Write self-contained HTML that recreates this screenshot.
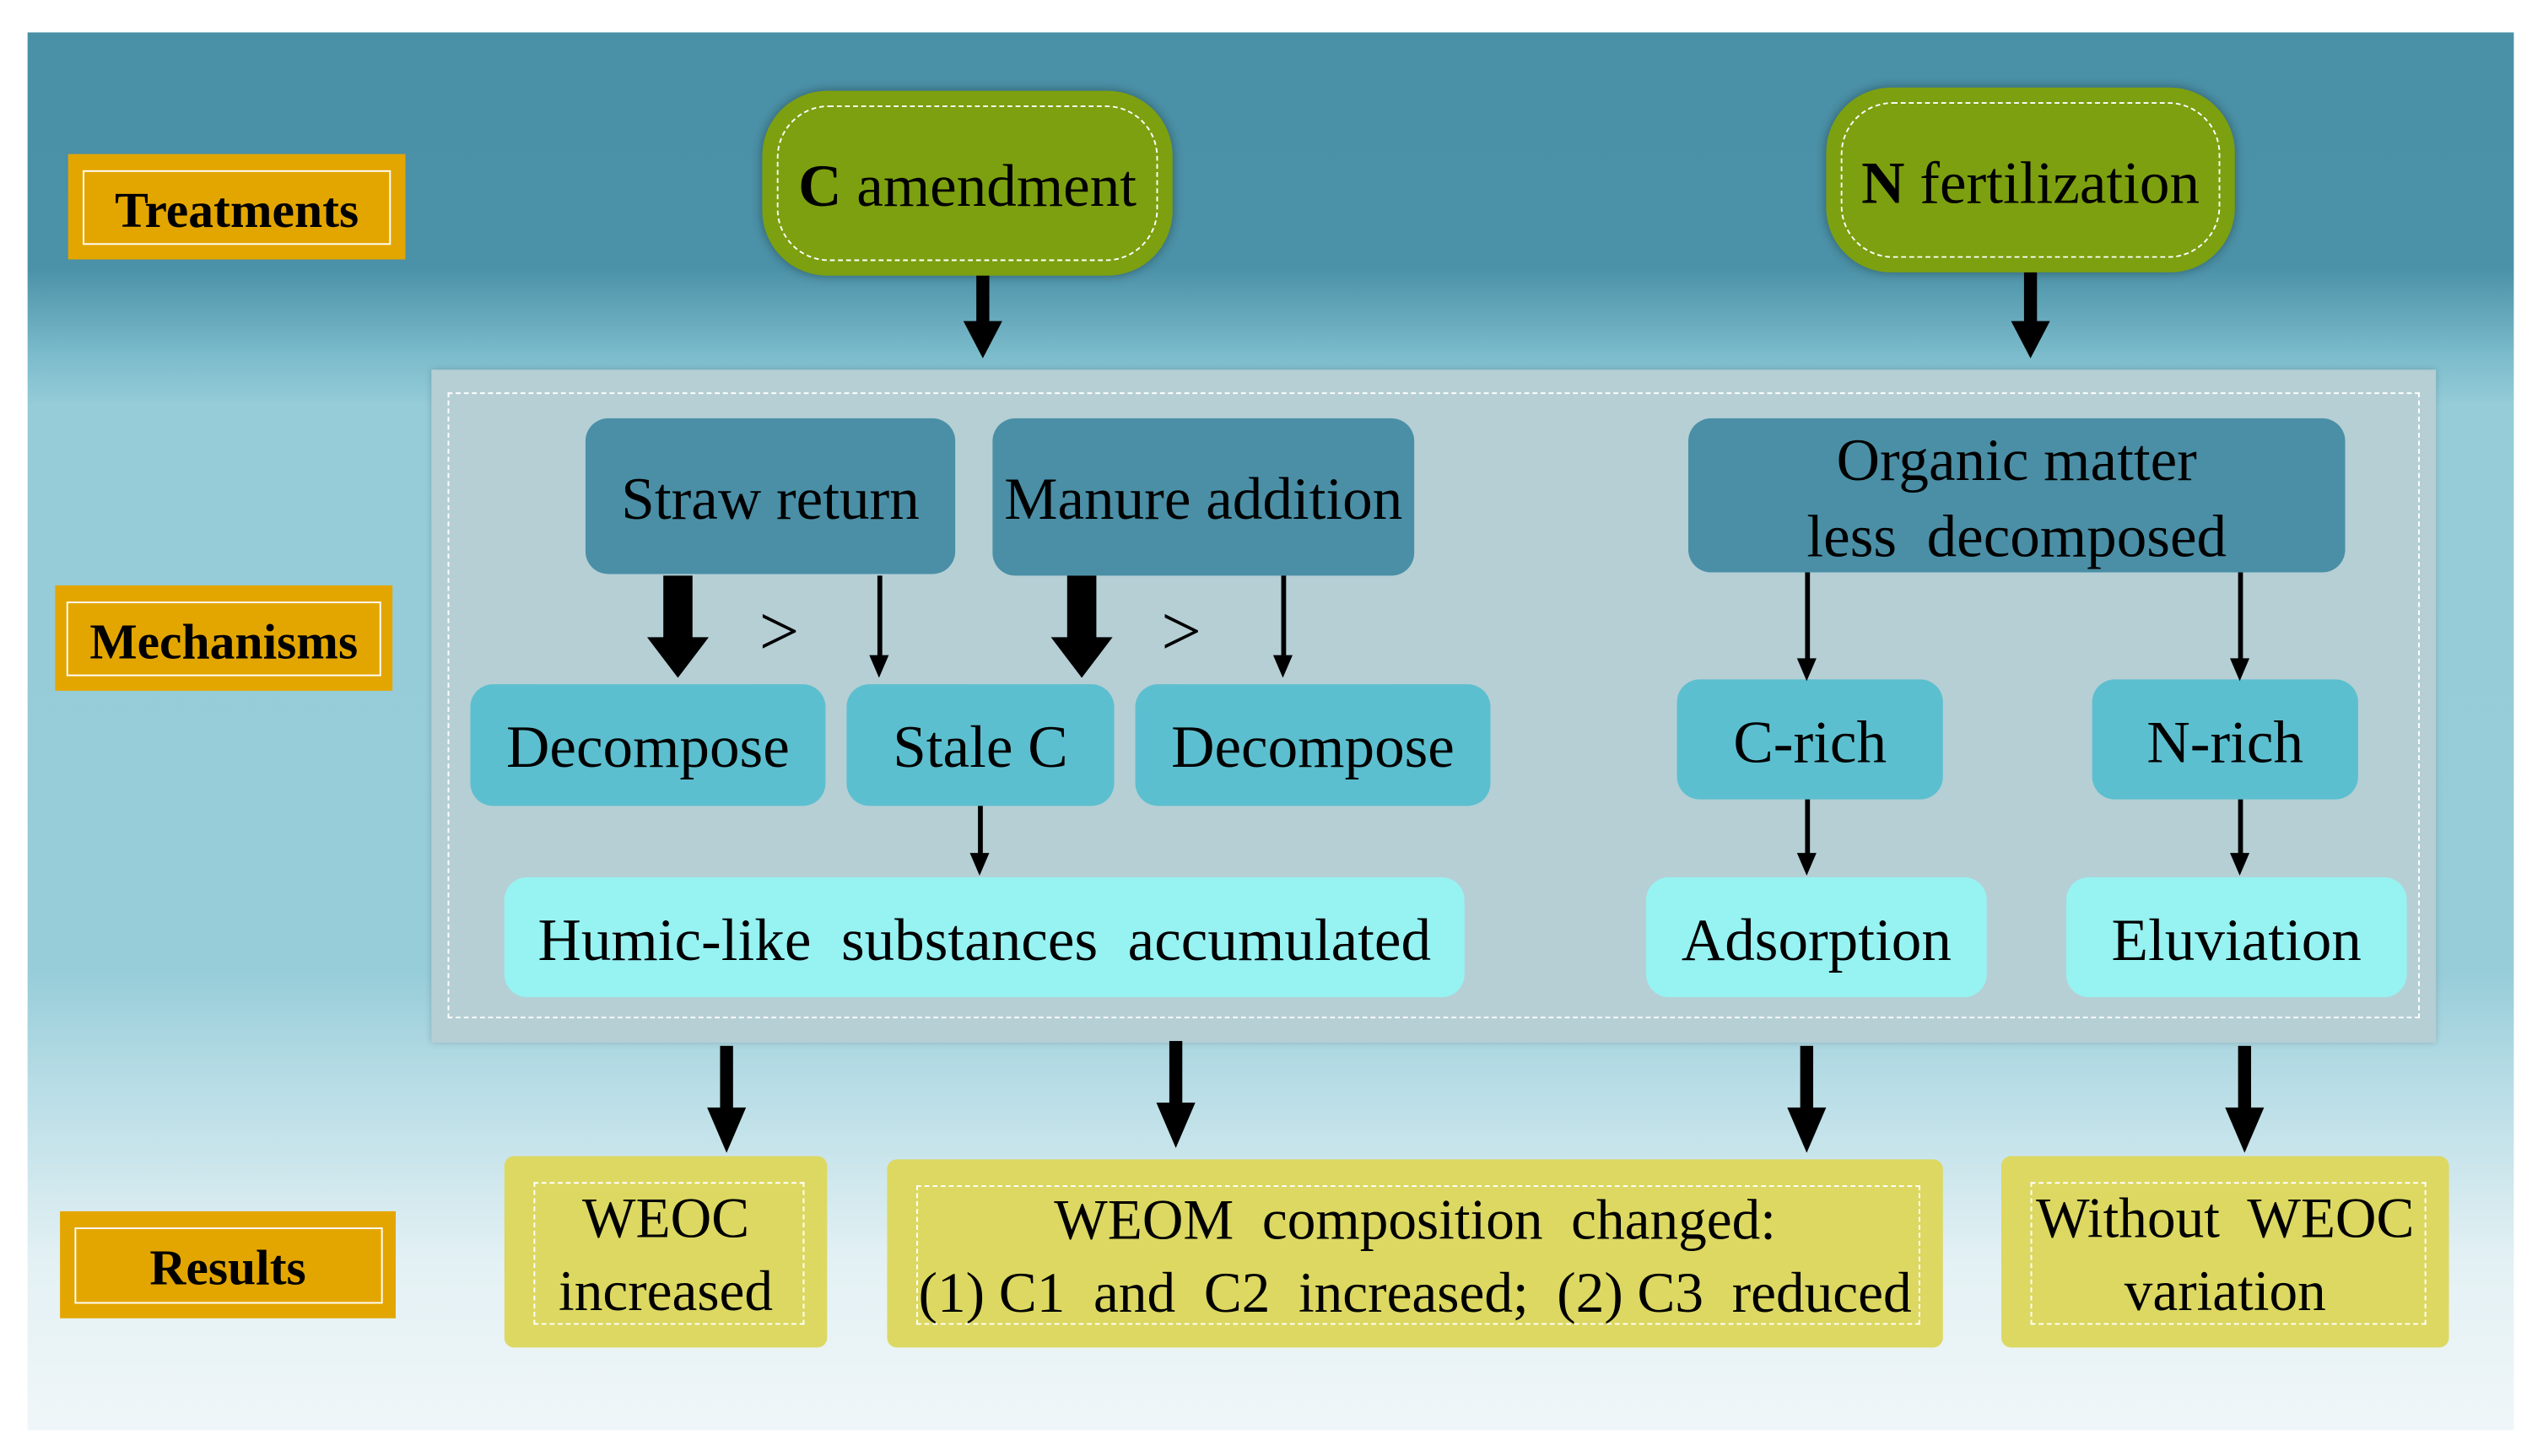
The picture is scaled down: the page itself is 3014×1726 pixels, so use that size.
<!DOCTYPE html>
<html><head><meta charset="utf-8"><style>
html,body{margin:0;padding:0;background:#fff;}
body{width:3014px;height:1726px;overflow:hidden;position:relative;}
#s{position:absolute;left:0;top:0;width:1568px;height:898px;transform:scale(1.9222);transform-origin:0 0;font-family:"Liberation Serif",serif;}
.a{position:absolute;box-sizing:border-box;}
.bg{left:17px;top:20px;width:1533px;height:862px;background:linear-gradient(to bottom,#4a90a6 0,#4b91a7 145px,#7cbccc 200px,#95ccd8 230px,#97cdd9 580px,#b8dde6 650px,#e4f1f4 760px,#eff6f9 862px);}
.lab{background:#e3a600;display:flex;align-items:center;justify-content:center;}
.lab div{border:1.5px solid #fff;font-weight:bold;font-size:31px;color:#000;display:flex;align-items:center;justify-content:center;box-sizing:border-box;padding-top:4px;}
.g{background:#7da010;border-radius:40px;box-shadow:0 0 6px rgba(0,0,0,.35);display:flex;align-items:center;justify-content:center;font-size:37px;padding-top:4px;}
.g::after{content:"";position:absolute;left:9px;top:9px;right:9px;bottom:9px;border:1.5px dashed #fff;border-radius:32px;}
.t{display:flex;align-items:center;justify-content:center;text-align:center;font-size:37px;color:#000;border-radius:14px;line-height:1.25;padding-top:6px;white-space:nowrap;}
.d{background:#4a8fa6;}
.m{background:#5cbfcf;}
.l{background:#97f2f2;}
.y{background:#dcd862;border-radius:6px;line-height:1.28;font-size:35px;}
.y::after{content:"";position:absolute;left:18px;top:16px;right:14px;bottom:14px;border:1.5px dashed #fff;}
svg{position:absolute;left:0;top:0;}
</style></head><body><div id="s">
<div class="a bg"></div>
<div class="a lab" style="left:42px;top:95px;width:208px;height:65px"><div style="width:190px;height:46px">Treatments</div></div>
<div class="a lab" style="left:34px;top:361px;width:208px;height:65px"><div style="width:194px;height:46px">Mechanisms</div></div>
<div class="a lab" style="left:37px;top:747px;width:207px;height:66px"><div style="width:190px;height:47px">Results</div></div>
<div class="a g" style="left:470px;top:56px;width:253px;height:114px"><span><b>C</b> amendment</span></div>
<div class="a g" style="left:1126px;top:54px;width:252px;height:114px"><span><b>N</b> fertilization</span></div>
<div class="a" style="left:266px;top:228px;width:1236px;height:415px;background:#b5cfd5;box-shadow:0 0 4px rgba(0,0,0,.2)"></div>
<div class="a" style="left:276px;top:242px;width:1216px;height:386px;border:1.2px dashed #fff"></div>
<div class="a t d" style="left:361px;top:258px;width:228px;height:96px">Straw return</div>
<div class="a t d" style="left:612px;top:258px;width:260px;height:97px">Manure addition</div>
<div class="a t d" style="left:1041px;top:258px;width:405px;height:95px;line-height:1.25">Organic matter<br>less&nbsp; decomposed</div>
<div class="a t m" style="left:290px;top:422px;width:219px;height:75px">Decompose</div>
<div class="a t m" style="left:522px;top:422px;width:165px;height:75px">Stale C</div>
<div class="a t m" style="left:700px;top:422px;width:219px;height:75px">Decompose</div>
<div class="a t m" style="left:1034px;top:419px;width:164px;height:74px">C-rich</div>
<div class="a t m" style="left:1290px;top:419px;width:164px;height:74px">N-rich</div>
<div class="a t l" style="left:311px;top:541px;width:592px;height:74px">Humic-like&nbsp; substances&nbsp; accumulated</div>
<div class="a t l" style="left:1015px;top:541px;width:210px;height:74px">Adsorption</div>
<div class="a t l" style="left:1274px;top:541px;width:210px;height:74px">Eluviation</div>
<div class="a t y" style="left:311px;top:713px;width:199px;height:118px">WEOC<br>increased</div>
<div class="a t y" style="left:547px;top:715px;width:651px;height:116px">WEOM&nbsp; composition&nbsp; changed:<br>(1) C1&nbsp; and&nbsp; C2&nbsp; increased;&nbsp; (2) C3&nbsp; reduced</div>
<div class="a t y" style="left:1234px;top:713px;width:276px;height:118px">Without&nbsp; WEOC<br>variation</div>
<div class="a" style="left:468px;top:364px;font-size:44px">&gt;</div>
<div class="a" style="left:716px;top:364px;font-size:44px">&gt;</div>
<svg width="1568" height="898" viewBox="0 0 1568 898">
<g fill="#000">
<rect x="602" y="170" width="8" height="30"/><polygon points="594,198 618,198 606,221"/>
<rect x="1248" y="168" width="8" height="32"/><polygon points="1240,198 1264,198 1252,221"/>
<rect x="409" y="355" width="18" height="40"/><polygon points="399,393 437,393 418,418"/>
<rect x="658" y="355" width="18" height="40"/><polygon points="648,393 686,393 667,418"/>
<rect x="444" y="645" width="8" height="40"/><polygon points="436,683 460,683 448,711"/>
<rect x="721" y="642" width="8" height="40"/><polygon points="713,680 737,680 725,708"/>
<rect x="1110" y="645" width="8" height="40"/><polygon points="1102,683 1126,683 1114,711"/>
<rect x="1380" y="645" width="8" height="40"/><polygon points="1372,683 1396,683 1384,711"/>
<rect x="541" y="355" width="3" height="52"/><polygon points="536,404 548,404 542,418"/>
<rect x="790" y="355" width="3" height="52"/><polygon points="785,404 797,404 791,418"/>
<rect x="603" y="497" width="3" height="32"/><polygon points="598,526 610,526 604,540"/>
<rect x="1113" y="353" width="3" height="56"/><polygon points="1108,406 1120,406 1114,420"/>
<rect x="1380" y="353" width="3" height="56"/><polygon points="1375,406 1387,406 1381,420"/>
<rect x="1113" y="493" width="3" height="36"/><polygon points="1108,526 1120,526 1114,540"/>
<rect x="1380" y="493" width="3" height="36"/><polygon points="1375,526 1387,526 1381,540"/>
</g></svg>
</div></body></html>
